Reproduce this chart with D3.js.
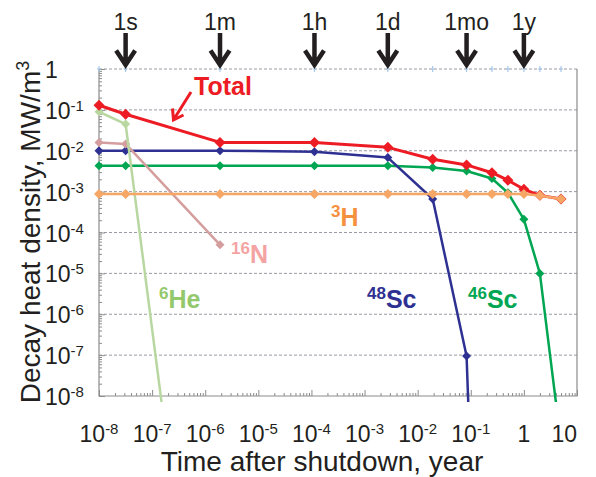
<!DOCTYPE html>
<html lang="en">
<head>
  <meta charset="UTF-8">
  <title>Decay heat density</title>
  <script src="https://d3js.org/d3.v7.min.js"></script>
  <style>
    body { margin: 0; background: #fff; }
    svg { display: block; font-family: "Liberation Sans", Arial, sans-serif; }
    .grid line { stroke: #9a9aa4; stroke-width: 1; stroke-dasharray: 3,2; }
    .frame { stroke: #8c8c8c; stroke-width: 1.2; fill: none; }
    .ticks line { stroke: #8c8c8c; stroke-width: 1; }
    .ticks path { display: none; }
  </style>
</head>
<body>
  <svg id="chart" width="596" height="477"></svg>
  <script>
    // time points (year): 0 (drawn at 1e-8), 1s, 1m, 1h, 1d, 1w, 1mo, 3mo, 6mo, 1y, 2y, 5y
    const times = [1e-8, 3.17e-8, 1.9e-6, 1.14e-4, 2.74e-3, 1.92e-2, 8.33e-2, 0.25, 0.5, 1, 2, 5];

    const total = [0.13, 0.078, 0.016, 0.016, 0.0121, 0.0062, 0.0045, 0.0029, 0.0019, 0.00114, 0.00081, 0.00066];
    const sc48  = [0.01, 0.01, 0.01, 0.0095, 0.0068, 0.00066, 9.5e-8, 1e-24];
    const sc46  = [0.0043, 0.0043, 0.0043, 0.0043, 0.0043, 0.0039, 0.0032, 0.0021, 0.00094, 0.00021, 1e-5, 7e-10];
    const h3    = [0.00087, 0.00087, 0.00087, 0.00087, 0.00087, 0.00087, 0.00087, 0.00087, 0.00087, 0.00087, 0.0008, 0.00066];
    const n16   = [0.016, 0.0147, 5e-5];
    const he6   = [0.09, 0.045, 6e-20];

    const arrowTimes  = [3.17e-8, 1.9e-6, 1.14e-4, 2.74e-3, 8.33e-2, 1];
    const arrowLabels = ["1s", "1m", "1h", "1d", "1mo", "1y"];

    const xTickExp = [-8, -7, -6, -5, -4, -3, -2, -1, 0, 1];
    const yTickExp = [0, -1, -2, -3, -4, -5, -6, -7, -8];

    const svg = d3.select("#chart");
    const mLeft = 99, mRight = 577, mTop = 69, mBottom = 396;

    const x = d3.scaleLog().domain([1e-8, 10]).range([mLeft, mRight]);
    const y = d3.scaleLog().domain([1e-8, 1]).range([mBottom, mTop]);

    // grid (dashed, every decade incl. the top edge)
    svg.append("g").attr("class", "grid")
      .selectAll("line")
      .data(yTickExp.filter(e => e > -8))
      .join("line")
      .attr("x1", mLeft).attr("x2", mRight)
      .attr("y1", e => y(Math.pow(10, e))).attr("y2", e => y(Math.pow(10, e)));

    // minor / major inner ticks
    const isDecade = v => Math.abs(Math.log10(v) - Math.round(Math.log10(v))) < 1e-6;
    const yMinor = y.ticks().filter(v => !isDecade(v));
    const yMajor = yTickExp.map(e => Math.pow(10, e));
    const xMinor = x.ticks().filter(v => !isDecade(v));
    const xMajor = xTickExp.map(e => Math.pow(10, e));

    svg.append("g").attr("class", "ticks").attr("transform", `translate(${mLeft},0)`)
      .call(d3.axisLeft(y).tickValues(yMinor).tickSize(-3).tickFormat(""));
    svg.append("g").attr("class", "ticks").attr("transform", `translate(${mLeft},0)`)
      .call(d3.axisLeft(y).tickValues(yMajor).tickSize(-6).tickFormat(""));
    svg.append("g").attr("class", "ticks").attr("transform", `translate(0,${mBottom})`)
      .call(d3.axisBottom(x).tickValues(xMinor).tickSize(-3).tickFormat(""));
    svg.append("g").attr("class", "ticks").attr("transform", `translate(0,${mBottom})`)
      .call(d3.axisBottom(x).tickValues(xMajor).tickSize(-6).tickFormat(""));

    // frame: left, bottom, right solid
    svg.append("path").attr("class", "frame")
      .attr("d", `M${mLeft},${mTop}V${mBottom}H${mRight}V${mTop}`);

    // light blue marks on top edge at the time points
    svg.append("g").selectAll("path")
      .data(times)
      .join("path")
      .attr("d", t => `M${x(t)},${mTop - 3}V${mTop + 3}M${x(t) - 2},${mTop}H${x(t) + 2}`)
      .attr("stroke", "#a9c8e8").attr("stroke-width", 1.2);

    // tick labels
    function powLabel(sel, e, sup) {
      if (e === 0) { sel.append("tspan").text("1"); return; }
      if (e === 1) { sel.append("tspan").text("10"); return; }
      sel.append("tspan").text("10");
      sel.append("tspan").attr("font-size", sup).attr("dy", -8).text(e);
    }

    svg.append("g").selectAll("text")
      .data(xTickExp)
      .join("text")
      .attr("x", e => x(Math.pow(10, e)))
      .attr("y", 442)
      .attr("font-size", 23)
      .attr("fill", "#231f20")
      .attr("text-anchor", e => e === 1 ? "end" : "middle")
      .each(function(e) { powLabel(d3.select(this), e, 15); });

    svg.append("g").selectAll("text")
      .data(yTickExp)
      .join("text")
      .attr("x", 45)
      .attr("y", e => y(Math.pow(10, e)) + 9)
      .attr("font-size", 23)
      .attr("fill", "#231f20")
      .each(function(e) { powLabel(d3.select(this), e, 15); });

    // axis titles
    svg.append("text")
      .attr("x", 322).attr("y", 471)
      .attr("text-anchor", "middle")
      .attr("font-size", 28).attr("fill", "#231f20")
      .text("Time after shutdown, year");

    const yt = svg.append("text")
      .attr("transform", "translate(40,232) rotate(-90)")
      .attr("text-anchor", "middle")
      .attr("font-size", 28).attr("fill", "#231f20");
    yt.append("tspan").text("Decay heat density, MW/m");
    yt.append("tspan").attr("font-size", 18).attr("dy", -11).text("3");

    // series
    svg.append("clipPath").attr("id", "clip")
      .append("rect").attr("x", mLeft - 8).attr("y", mTop - 8)
      .attr("width", mRight - mLeft + 16).attr("height", mBottom - mTop + 14);

    const series = [
      { values: sc46,  color: "#00a651", width: 2.5, r: 4.5 },
      { values: sc48,  color: "#2e3192", width: 2.5, r: 4.5 },
      { values: n16,   color: "#d59e9e", width: 2.5, r: 4.5 },
      { values: he6,   color: "#b9d7a1", width: 2.5, r: 4.5 },
      { values: total, color: "#ed1c24", width: 3,   r: 5.5 },
      { values: h3,    color: "#f6a766", width: 2.5, r: 5   }
    ];

    const line = d3.line()
      .x(d => x(d[0]))
      .y(d => y(d[1]));

    const plot = svg.append("g").attr("clip-path", "url(#clip)");

    series.forEach(s => {
      const pts = s.values.map((v, i) => [times[i], v]);
      plot.append("path")
        .datum(pts)
        .attr("d", line)
        .attr("fill", "none")
        .attr("stroke", s.color)
        .attr("stroke-width", s.width)
        .attr("stroke-linejoin", "round");

      plot.append("g").selectAll("path")
        .data(pts.filter(p => p[1] >= 1e-8))
        .join("path")
        .attr("d", p => {
          const cx = x(p[0]), cy = y(p[1]), r = s.r;
          return `M${cx},${cy - r}L${cx + r},${cy}L${cx},${cy + r}L${cx - r},${cy}Z`;
        })
        .attr("fill", s.color);
    });

    // top arrows
    const arrows = svg.append("g");
    arrowTimes.forEach((t, i) => {
      const ax = x(t);
      arrows.append("path")
        .attr("d", `M${ax},33V64M${ax - 9.5},50.5L${ax},65L${ax + 9.5},50.5`)
        .attr("fill", "none").attr("stroke", "#231f20")
        .attr("stroke-width", 4.5).attr("stroke-linejoin", "miter");
      arrows.append("text")
        .attr("x", ax).attr("y", 30)
        .attr("text-anchor", "middle")
        .attr("font-size", 23).attr("fill", "#231f20")
        .text(arrowLabels[i]);
    });

    // series labels
    function isoLabel(xp, yp, sup, main, color) {
      const t = svg.append("text").attr("x", xp).attr("y", yp)
        .attr("font-weight", "bold").attr("fill", color);
      if (sup) t.append("tspan").attr("font-size", 17).attr("dy", -9).text(sup);
      t.append("tspan").attr("font-size", 25).attr("dy", sup ? 9 : 0).text(main);
    }
    isoLabel(194, 95, null, "Total", "#ed1c24");
    isoLabel(331, 226, "3", "H", "#f5913e");
    isoLabel(231, 263, "16", "N", "#f4a3a3");
    isoLabel(159, 308, "6", "He", "#93c86c");
    isoLabel(367, 308, "48", "Sc", "#2e3192");
    isoLabel(468, 308, "46", "Sc", "#00a651");

    // red pointer to Total curve
    svg.append("path")
      .attr("d", "M191,92L174,119M172.5,108.5L173.5,120L183.5,115")
      .attr("fill", "none").attr("stroke", "#ed1c24")
      .attr("stroke-width", 3).attr("stroke-linejoin", "miter");
  </script>
</body>
</html>
